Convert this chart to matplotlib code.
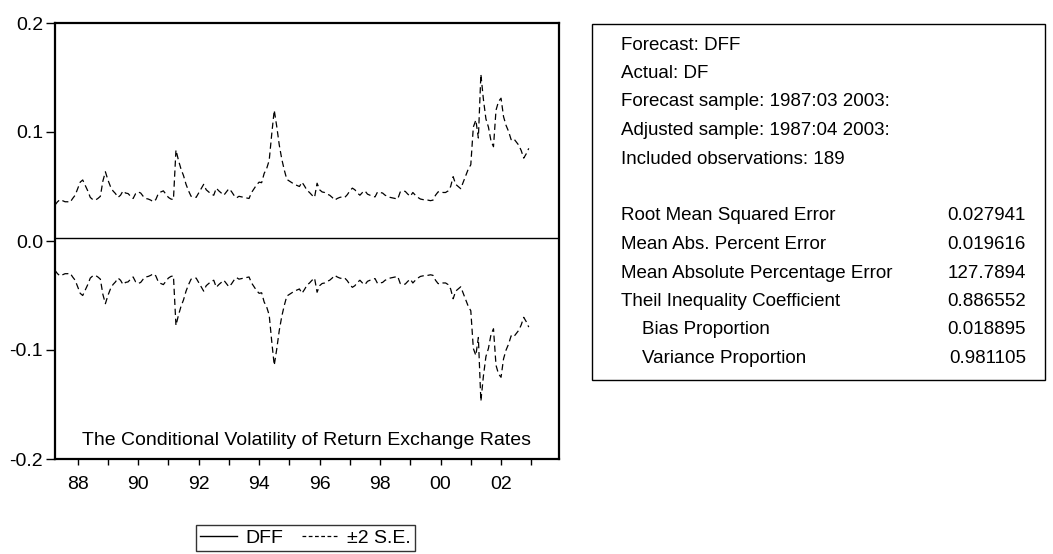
import numpy as np
import matplotlib
matplotlib.use("Agg")
import matplotlib.pyplot as plt
from matplotlib.patches import Rectangle
from matplotlib.lines import Line2D

plt.rcParams['font.family'] = ['Liberation Sans', 'DejaVu Sans']

# monthly data, first obs 1987:04
start_year = 1987.25
dff_value = 0.003      # DFF forecast, flat line
forecast_months = 201  # 1987:04 .. 2003:12
# upper band (DFF + 2 S.E.), 1987:04 .. 2002:12
upper = [
    0.033, 0.036, 0.038, 0.037, 0.036, 0.036, 0.0355, 0.039, 0.042, 0.048, 0.054, 0.056,
    0.051, 0.046, 0.040, 0.038, 0.0375, 0.039, 0.041, 0.055, 0.0635, 0.056, 0.050, 0.046,
    0.0435, 0.040, 0.042, 0.046, 0.044, 0.0435, 0.041, 0.039, 0.0435, 0.045, 0.044, 0.041,
    0.039, 0.0385, 0.0375, 0.036, 0.038, 0.0435, 0.045, 0.046, 0.043, 0.040, 0.0385, 0.038,
    0.0835, 0.074, 0.066, 0.060, 0.052, 0.046, 0.041, 0.0405, 0.040, 0.044, 0.048, 0.052,
    0.047, 0.045, 0.043, 0.042, 0.0485, 0.046, 0.044, 0.042, 0.045, 0.048, 0.0455, 0.042,
    0.0395, 0.041, 0.0405, 0.040, 0.0395, 0.039, 0.0445, 0.048, 0.0515, 0.054, 0.0535, 0.062,
    0.0665, 0.074, 0.098, 0.120, 0.105, 0.088, 0.075, 0.065, 0.0565, 0.055, 0.0535, 0.052,
    0.051, 0.050, 0.054, 0.0505, 0.0465, 0.0445, 0.042, 0.040, 0.053, 0.047, 0.045, 0.0445,
    0.043, 0.042, 0.040, 0.0375, 0.039, 0.040, 0.0405, 0.040, 0.0425, 0.046, 0.0485, 0.047,
    0.044, 0.042, 0.0445, 0.046, 0.043, 0.042, 0.041, 0.0405, 0.045, 0.0445, 0.044, 0.042,
    0.041, 0.040, 0.0395, 0.039, 0.0385, 0.045, 0.046, 0.0455, 0.043, 0.041, 0.0445, 0.042,
    0.040, 0.0385, 0.038, 0.0375, 0.0375, 0.037, 0.0375, 0.042, 0.045, 0.0455, 0.0445, 0.0445,
    0.046, 0.050, 0.059, 0.052, 0.050, 0.048, 0.054, 0.060, 0.066, 0.070, 0.1045, 0.111,
    0.0945, 0.153, 0.130, 0.112, 0.1045, 0.092, 0.0865, 0.120, 0.128, 0.131, 0.114, 0.106,
    0.1005, 0.093, 0.094, 0.091, 0.088, 0.083, 0.076, 0.080, 0.085,
]

info_lines = ["Forecast: DFF", "Actual: DF", "Forecast sample: 1987:03 2003:",
              "Adjusted sample: 1987:04 2003:", "Included observations: 189"]
stat_names = ["Root Mean Squared Error", "Mean Abs. Percent Error",
              "Mean Absolute Percentage Error", "Theil Inequality Coefficient",
              "Bias Proportion", "Variance Proportion"]
stat_values = ["0.027941", "0.019616", "127.7894", "0.886552", "0.018895", "0.981105"]

upper = np.array(upper)
n = len(upper)
t = start_year + np.arange(n) / 12.0
t_f = start_year + np.arange(forecast_months) / 12.0
dff = np.full(forecast_months, dff_value)
se2 = upper - dff_value
lower = dff_value - se2

W, H = 1053, 554
fig = plt.figure(figsize=(W / 100, H / 100), dpi=100)

def fx(px):
    return px / W

def fy(py):
    return 1 - py / H

ax = fig.add_axes([fx(55), fy(459), fx(559 - 55), (459 - 23) / H])
ax.plot(t_f, dff, color='black', lw=1.0)
ax.plot(t, upper, color='black', lw=0.9, ls=(0, (5, 3)))
ax.plot(t, lower, color='black', lw=0.9, ls=(0, (5, 3)))

ax.set_xlim(start_year, t_f[-1])
ax.set_ylim(-0.2, 0.2)
ax.set_yticks([-0.2, -0.1, 0.0, 0.1, 0.2])
ax.set_yticklabels(['-0.2', '-0.1', '0.0', '0.1', '0.2'])
ax.set_xticks(range(1988, 2003, 2))
ax.set_xticklabels(['88', '90', '92', '94', '96', '98', '00', '02'])
ax.set_xticks(range(1989, 2004, 2), minor=True)
ax.tick_params(axis='both', which='both', direction='out', width=1,
               labelsize=14, color='black')
ax.tick_params(axis='x', which='both', length=4.5, pad=8)
ax.tick_params(axis='y', length=6.5, pad=2)
for s in ax.spines.values():
    s.set_linewidth(1.6)

ax.text(0.5, 0.042, "The Conditional Volatility of Return Exchange Rates",
        transform=ax.transAxes, ha='center', va='center', fontsize=14)

# legend box under the chart
handles = [Line2D([], [], color='black', lw=1.0),
           Line2D([], [], color='black', lw=0.9, ls=(0, (3, 2)))]
leg = fig.legend(handles, ['DFF', '\u00b12 S.E.'], ncol=2,
                 loc='center', bbox_to_anchor=(fx(305.5), fy(538)),
                 frameon=True, fancybox=False, fontsize=14,
                 handlelength=1.9, columnspacing=1.0, borderpad=0.2,
                 handletextpad=0.4, borderaxespad=0)
leg.get_frame().set_edgecolor('black')
leg.get_frame().set_linewidth(1.0)

# statistics box
box = Rectangle((fx(592), fy(380)), fx(1045 - 592), (380 - 24) / H,
                transform=fig.transFigure, fill=False, edgecolor='black', lw=1.0)
fig.patches.append(box)

step = 28.5
y0 = 45
for k, s in enumerate(info_lines):
    fig.text(fx(621), fy(y0 + k * step), s, ha='left', va='center', fontsize=13.5)
for k, (s, v) in enumerate(zip(stat_names, stat_values)):
    yy = y0 + (k + 6) * step
    xx = 621 if k < 4 else 642
    fig.text(fx(xx), fy(yy), s, ha='left', va='center', fontsize=13.5)
    fig.text(fx(1026), fy(yy), v, ha='right', va='center', fontsize=13.5)

fig.savefig('out.png', dpi=100)
